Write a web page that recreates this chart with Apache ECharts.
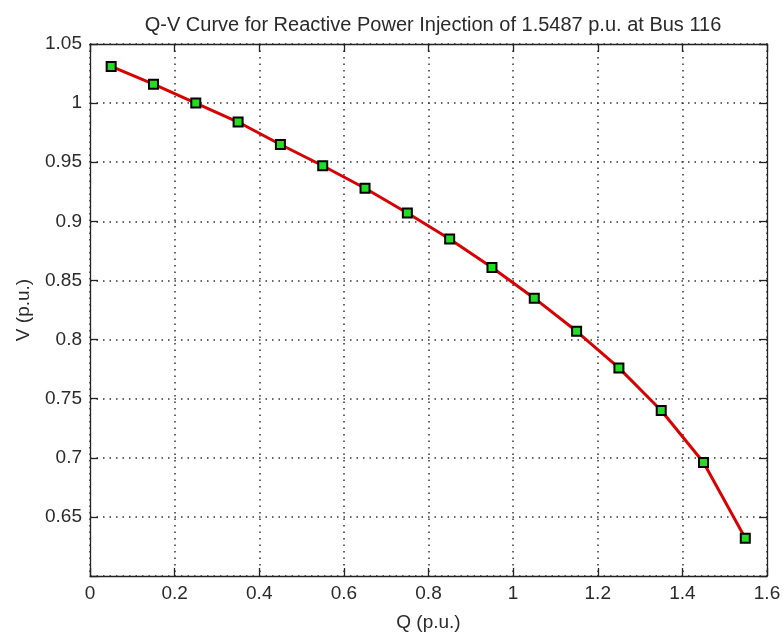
<!DOCTYPE html>
<html>
<head>
<meta charset="utf-8">
<script src="https://cdn.jsdelivr.net/npm/echarts@6/dist/echarts.min.js"></script>
<style>
  html, body { margin: 0; padding: 0; background: #ffffff; }
  #chart { width: 784px; height: 637px; }
</style>
</head>
<body>
<div id="chart"></div>
<script>
// Reactive power injection (p.u.) and resulting bus voltage (p.u.)
const qValues = [0.05, 0.15, 0.25, 0.35, 0.45, 0.55, 0.65, 0.75, 0.85, 0.95, 1.05, 1.15, 1.25, 1.35, 1.45, 1.5487];
const vValues = [1.031, 1.016, 1.000, 0.984, 0.965, 0.947, 0.928, 0.907, 0.885, 0.861, 0.835, 0.807, 0.776, 0.740, 0.696, 0.632];

const titleText = 'Q-V Curve for Reactive Power Injection of 1.5487 p.u. at Bus 116';
const xName = 'Q (p.u.)';
const yName = 'V (p.u.)';

const FONT = 'Liberation Sans, Arial, sans-serif';
const TXT = '#2a2a2a';
const FS = 19;

const chart = echarts.init(document.getElementById('chart'));

const gridLine = { show: true, lineStyle: { color: '#333333', type: [1.5, 5], width: 1.5 } };
const axisLine = { show: true, onZero: false, lineStyle: { color: '#222222', width: 1.3 } };
const axisTick = { show: true, inside: true, length: 8, lineStyle: { color: '#222222', width: 1.3 } };
const fmt = v => String(parseFloat(v.toFixed(2)));

chart.setOption({
  backgroundColor: '#ffffff',
  animation: false,
  title: {
    text: titleText,
    left: 428,
    textAlign: 'center',
    top: 10,
    textStyle: { fontFamily: FONT, fontSize: 20, fontWeight: 'normal', color: TXT }
  },
  grid: { left: 90, right: 17, top: 44, bottom: 61, containLabel: false },
  xAxis: [
    {
      type: 'value', min: 0, max: 1.6, interval: 0.2,
      name: xName, nameLocation: 'middle', nameGap: 37,
      nameTextStyle: { fontFamily: FONT, fontSize: FS, color: TXT },
      axisLine: axisLine, axisTick: axisTick,
      splitLine: gridLine,
      axisLabel: { fontFamily: FONT, fontSize: FS, color: TXT, margin: 8, formatter: fmt }
    },
    {
      type: 'value', position: 'top', min: 0, max: 1.6, interval: 0.2,
      axisLine: axisLine, axisTick: axisTick, splitLine: { show: false },
      axisLabel: { show: false }
    }
  ],
  yAxis: [
    {
      type: 'value', min: 0.6, max: 1.05, interval: 0.05,
      name: yName, nameLocation: 'middle', nameGap: 57, nameRotate: 90,
      nameTextStyle: { fontFamily: FONT, fontSize: FS, color: TXT },
      axisLine: axisLine, axisTick: axisTick,
      splitLine: gridLine,
      axisLabel: { fontFamily: FONT, fontSize: FS, color: TXT, margin: 8,
        formatter: v => v <= 0.6001 ? '' : fmt(v) }
    },
    {
      type: 'value', position: 'right', min: 0.6, max: 1.05, interval: 0.05,
      axisLine: axisLine, axisTick: axisTick, splitLine: { show: false },
      axisLabel: { show: false }
    }
  ],
  series: [{
    type: 'line',
    data: qValues.map((q, i) => [q, vValues[i]]),
    smooth: false,
    lineStyle: { color: '#d80000', width: 3 },
    symbol: 'rect',
    symbolSize: 9,
    itemStyle: { color: '#22dd22', borderColor: '#000000', borderWidth: 2 },
    z: 5
  }]
});
</script>
</body>
</html>
